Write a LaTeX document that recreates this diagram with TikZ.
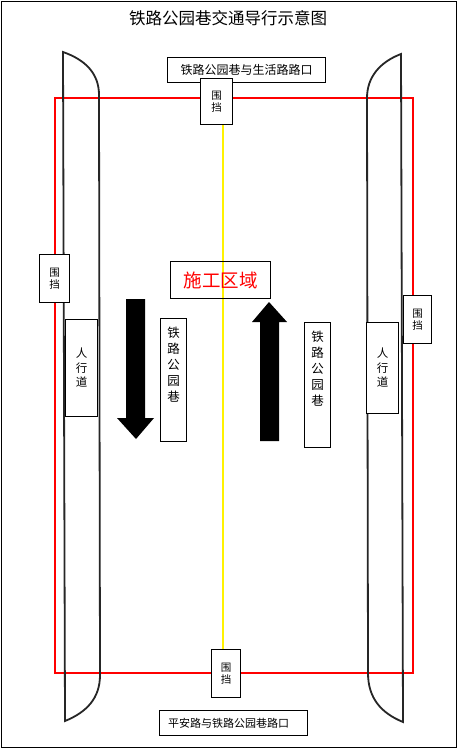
\documentclass[tikz,border=0pt]{standalone}
\usepackage{fontspec}
\newfontfamily\cjk{Noto Sans CJK SC}
\newcommand{\toptext}[3]{\parbox[c][#1][t]{#2}{\centering\vspace*{9pt}#3\par}}
\begin{document}
\begin{tikzpicture}[x=1pt,y=-1pt,
  lbl/.style={draw=black,line width=1pt,fill=white,inner sep=0pt,anchor=north west,align=center,font=\cjk\fontsize{12}{14}\selectfont},
  vlbl/.style={lbl,font=\cjk\fontsize{12.5}{16}\selectfont},
  wd/.style={lbl,font=\cjk\fontsize{10.5}{12}\selectfont},
  road/.style={line width=1.8pt,black!85},
  arr/.style={fill=black,draw=none}]
\useasboundingbox (0,0) rectangle (460,749);
\fill[white] (0,0) rectangle (460,749);
\draw[line width=1pt] (1,2) rectangle (456,747);
\node[font=\cjk\fontsize{16.5}{18}\selectfont] (title) at (228,18) {铁路公园巷交通导行示意图};
% red fence
\draw[red,line width=1.8pt] (55,98) rectangle (413,673);
% curbs
\draw[road] (99,95) .. controls (99,74) and (86,60) .. (63,52) -- (65,721) .. controls (87,712) and (100,698) .. (100,675) -- cycle;
\draw[road] (367,98) .. controls (367,77) and (380,62) .. (401,54) -- (403,722) .. controls (381,713) and (368,698) .. (368,673) -- cycle;
% centre line
\coordinate (ytop) at (223,124);
\coordinate (ybot) at (223,649);
\draw[yellow,line width=2pt] (ytop) -- (ybot);
% labels
\node[lbl,minimum width=158pt,minimum height=25pt] (top) at (167,57) {铁路公园巷与生活路路口};
\node[wd,minimum width=32pt,minimum height=46pt] (wdT) at (200,78) {围\\挡};
\node[wd,minimum width=30pt,minimum height=48pt] (wdL) at (39,254) {围\\挡};
\node[wd,minimum width=28pt,minimum height=48pt] (wdR) at (403,295) {围\\挡};
\node[wd,minimum width=29pt,minimum height=48pt] (wdB) at (211,649) {围\\挡};
\node[wd,font=\cjk\fontsize{11.5}{14.5}\selectfont,minimum width=32pt,minimum height=97pt] (sideL) at (65,319) {人\\行\\道};
\node[wd,font=\cjk\fontsize{11.5}{14.5}\selectfont,minimum width=32pt,minimum height=91pt] (sideR) at (366,322) {人\\行\\道};
\node[lbl,fill=none,text=red,font=\cjk\fontsize{18.5}{20}\selectfont,minimum width=100pt,minimum height=37pt] (work) at (170,261) {施工区域};
\node[vlbl] (roadL) at (160,318) {\toptext{123pt}{26pt}{铁\\路\\公\\园\\巷}};
\node[vlbl] (roadR) at (304,322) {\toptext{125pt}{26pt}{铁\\路\\公\\园\\巷}};
\node[lbl,font=\cjk\fontsize{11}{13}\selectfont,minimum width=148pt,minimum height=25pt] (bot) at (159,710) {平安路与铁路公园巷路口\hspace*{10pt}};
% arrows
\fill[arr] (126,299) -- (145,299) -- (145,418) -- (154,418) -- (136,439) -- (117,418) -- (126,418) -- cycle;
\fill[arr] (260,441) -- (279,441) -- (279,322) -- (287,322) -- (269,302) -- (252,322) -- (260,322) -- cycle;
\end{tikzpicture}
\end{document}
